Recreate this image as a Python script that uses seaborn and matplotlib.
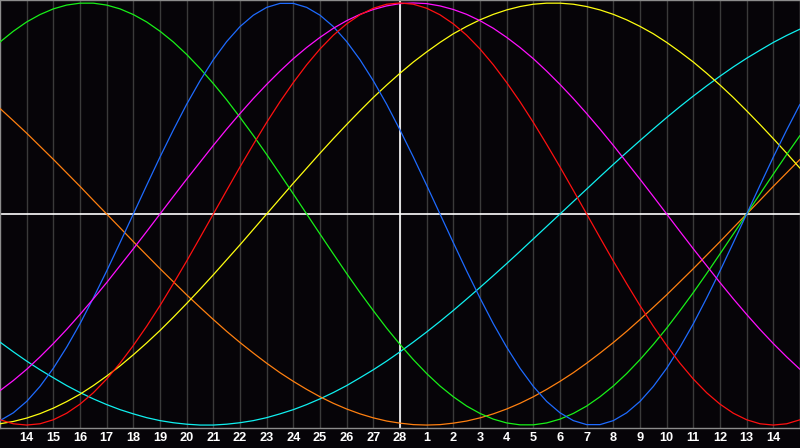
import numpy as np
import pandas as pd
import seaborn as sns
import matplotlib.pyplot as plt

# day labels under the chart (today = 28, the white vertical line)
day_labels = [14, 15, 16, 17, 18, 19, 20, 21, 22, 23, 24, 25, 26, 27, 28,
              1, 2, 3, 4, 5, 6, 7, 8, 9, 10, 11, 12, 13, 14]
today_pos = 14

# cycle values every half day, starting one day before
# the first label and ending one day after the last label
physical = [-0.979, -0.942, -0.888, -0.817, -0.731, -0.631, -0.520, -0.398, -0.270, -0.136,
            0.0, 0.136, 0.270, 0.398, 0.520, 0.631, 0.731, 0.817, 0.888, 0.942,
            0.979, 0.998, 0.998, 0.979, 0.942, 0.888, 0.817, 0.731, 0.631, 0.520,
            0.398, 0.270, 0.136, 0.0, -0.136, -0.270, -0.398, -0.520, -0.631, -0.731,
            -0.817, -0.888, -0.942, -0.979, -0.998, -0.998, -0.979, -0.942, -0.888, -0.817,
            -0.731, -0.631, -0.520, -0.398, -0.270, -0.136, 0.0, 0.136, 0.270, 0.398,
            0.520]
emotional = [-0.975, -0.994, -1.0, -0.994, -0.975, -0.944, -0.901, -0.847, -0.782, -0.707,
             -0.623, -0.532, -0.434, -0.330, -0.223, -0.112, 0.0, 0.112, 0.223, 0.330,
             0.434, 0.532, 0.623, 0.707, 0.782, 0.847, 0.901, 0.944, 0.975, 0.994,
             1.0, 0.994, 0.975, 0.944, 0.901, 0.847, 0.782, 0.707, 0.623, 0.532,
             0.434, 0.330, 0.223, 0.112, 0.0, -0.112, -0.223, -0.330, -0.434, -0.532,
             -0.623, -0.707, -0.782, -0.847, -0.901, -0.944, -0.975, -0.994, -1.0, -0.994,
             -0.975]
intellectual = [0.815, 0.866, 0.910, 0.945, 0.972, 0.990, 0.999, 0.999, 0.990, 0.972,
                0.945, 0.910, 0.866, 0.815, 0.756, 0.690, 0.618, 0.541, 0.458, 0.372,
                0.282, 0.189, 0.095, 0.0, -0.095, -0.189, -0.282, -0.372, -0.458, -0.541,
                -0.618, -0.690, -0.756, -0.815, -0.866, -0.910, -0.945, -0.972, -0.990, -0.999,
                -0.999, -0.990, -0.972, -0.945, -0.910, -0.866, -0.815, -0.756, -0.690, -0.618,
                -0.541, -0.458, -0.372, -0.282, -0.189, -0.095, 0.0, 0.095, 0.189, 0.282,
                0.372]
intuitive = [-0.837, -0.789, -0.736, -0.677, -0.614, -0.547, -0.476, -0.402, -0.325, -0.245,
             -0.165, -0.083, 0.0, 0.083, 0.165, 0.245, 0.325, 0.402, 0.476, 0.547,
             0.614, 0.677, 0.736, 0.789, 0.837, 0.880, 0.916, 0.946, 0.969, 0.986,
             0.997, 1.0, 0.997, 0.986, 0.969, 0.946, 0.916, 0.880, 0.837, 0.789,
             0.736, 0.677, 0.614, 0.547, 0.476, 0.402, 0.325, 0.245, 0.165, 0.083,
             0.0, -0.083, -0.165, -0.245, -0.325, -0.402, -0.476, -0.547, -0.614, -0.677,
             -0.736]
aesthetic = [-0.994, -0.983, -0.967, -0.946, -0.920, -0.889, -0.854, -0.813, -0.768, -0.720,
             -0.667, -0.611, -0.552, -0.489, -0.424, -0.357, -0.288, -0.217, -0.146, -0.073,
             0.0, 0.073, 0.146, 0.217, 0.288, 0.357, 0.424, 0.489, 0.552, 0.611,
             0.667, 0.720, 0.768, 0.813, 0.854, 0.889, 0.920, 0.946, 0.967, 0.983,
             0.994, 0.999, 0.999, 0.994, 0.983, 0.967, 0.946, 0.920, 0.889, 0.854,
             0.813, 0.768, 0.720, 0.667, 0.611, 0.552, 0.489, 0.424, 0.357, 0.288,
             0.217]
awareness = [0.500, 0.442, 0.383, 0.321, 0.259, 0.195, 0.131, 0.065, 0.0, -0.065,
             -0.131, -0.195, -0.259, -0.321, -0.383, -0.442, -0.500, -0.556, -0.609, -0.659,
             -0.707, -0.752, -0.793, -0.831, -0.866, -0.897, -0.924, -0.947, -0.966, -0.981,
             -0.991, -0.998, -1.0, -0.998, -0.991, -0.981, -0.966, -0.947, -0.924, -0.897,
             -0.866, -0.831, -0.793, -0.752, -0.707, -0.659, -0.609, -0.556, -0.500, -0.442,
             -0.383, -0.321, -0.259, -0.195, -0.131, -0.065, 0.0, 0.065, 0.131, 0.195,
             0.259]
spiritual = [-0.607, -0.653, -0.697, -0.738, -0.776, -0.813, -0.846, -0.876, -0.903, -0.927,
             -0.947, -0.965, -0.979, -0.989, -0.996, -1.0, -1.0, -0.996, -0.989, -0.979,
             -0.965, -0.947, -0.927, -0.903, -0.876, -0.846, -0.813, -0.776, -0.738, -0.697,
             -0.653, -0.607, -0.559, -0.509, -0.457, -0.403, -0.348, -0.292, -0.235, -0.177,
             -0.118, -0.059, 0.0, 0.059, 0.118, 0.177, 0.235, 0.292, 0.348, 0.403,
             0.457, 0.509, 0.559, 0.607, 0.653, 0.697, 0.738, 0.776, 0.813, 0.846,
             0.876]

cycles = {
    "Spiritual": spiritual,
    "Awareness": awareness,
    "Aesthetic": aesthetic,
    "Intellectual": intellectual,
    "Physical": physical,
    "Intuitive": intuitive,
    "Emotional": emotional,
}
palette = {
    "Physical": "#1e6bff",
    "Emotional": "#ff1010",
    "Intellectual": "#18f018",
    "Intuitive": "#ff10ff",
    "Aesthetic": "#ffff10",
    "Awareness": "#ff8010",
    "Spiritual": "#10f0f0",
}

rows = []
for name, vals in cycles.items():
    for j, v in enumerate(vals):
        rows.append({"day": -1 + j / 2, "value": v, "cycle": name})
df = pd.DataFrame(rows)

bg = "#060408"
sns.set_style("dark")

fig = plt.figure(figsize=(8, 4.48), dpi=100, facecolor=bg)
ax = fig.add_axes([0, 20 / 448, 1, 428 / 448])
ax.set_facecolor(bg)

for x in range(len(day_labels)):
    ax.axvline(x, color="#3a3a3a", lw=1, zorder=1)
ax.axhline(0, color="white", lw=1.2, zorder=2)
ax.axvline(today_pos, color="white", lw=1.2, zorder=2)

sns.lineplot(data=df, x="day", y="value", hue="cycle", palette=palette,
             estimator=None, lw=0.9, legend=False, ax=ax, zorder=3)

ax.set_xlim(-1, 29)
ax.set_ylim(-1.014, 1.014)
ax.set_xticks(range(len(day_labels)))
ax.set_xticklabels(day_labels, color="white", fontweight="bold", fontsize=9.2,
                   family=["Liberation Sans", "DejaVu Sans"])
ax.tick_params(axis="x", length=0, pad=3.2)
ax.set_yticks([])
ax.set_xlabel("")
ax.set_ylabel("")
ax.grid(False)
for s in ax.spines.values():
    s.set_color("#8c8c8c")
    s.set_linewidth(1)

fig.savefig("out.png", dpi=100, facecolor=bg)
